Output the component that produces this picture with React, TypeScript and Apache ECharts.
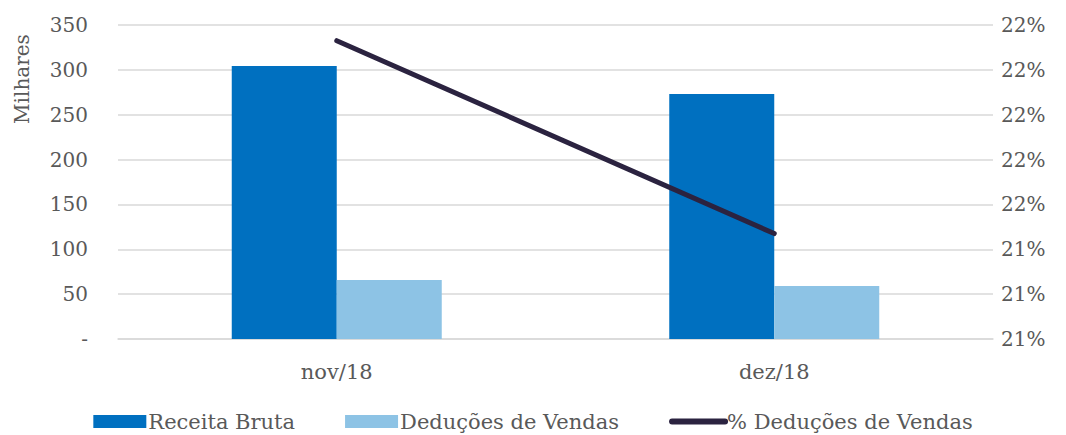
import React, { useEffect, useRef } from "react";
import * as echarts from "echarts";

const categories = ["nov/18", "dez/18"];
const receitaBruta = [304.3, 273.1];
const deducoes = [65.8, 59.1];
const pctDeducoes = [21.865, 21.435];
const seriesNames = ["Receita Bruta", "Deduções de Vendas", "% Deduções de Vendas"];

const FONT = "DejaVu Serif";
const TXT = "#595959";
const FS = 20;

export default function App() {
  const ref = useRef<HTMLDivElement>(null);
  useEffect(() => {
    document.body.style.margin = "0";
    const chart = echarts.init(ref.current!, null, { renderer: "svg" });
    chart.setOption({
      animation: false,
      textStyle: { fontFamily: FONT },
      grid: { left: 118, right: 73, top: 25, bottom: 96 },
      legend: {
        top: 406,
        left: "center",
        itemWidth: 53,
        itemHeight: 13,
        itemGap: 50,
        textStyle: { fontFamily: FONT, fontSize: 21, color: TXT, padding: [0, 0, 0, -3] },
        data: [
          { name: seriesNames[0], icon: "rect" },
          { name: seriesNames[1], icon: "rect" },
          { name: seriesNames[2], itemStyle: { opacity: 0 }, lineStyle: { width: 6 } },
        ],
      },
      graphic: [
        {
          type: "text",
          x: 22,
          y: 79,
          rotation: Math.PI / 2,
          style: {
            text: "Milhares",
            font: `${FS}px ${FONT}`,
            fill: TXT,
            align: "center",
            verticalAlign: "middle",
          },
        },
      ],
      xAxis: {
        type: "category",
        data: categories,
        axisLine: { show: true, lineStyle: { color: "#D9D9D9", width: 1.5 } },
        axisTick: { show: false },
        axisLabel: { color: TXT, fontSize: 21, fontFamily: FONT, margin: 22 },
      },
      yAxis: [
        {
          type: "value",
          min: 0,
          max: 350,
          interval: 50,
          axisLine: { show: false },
          axisTick: { show: false },
          splitLine: { lineStyle: { color: "#D9D9D9", width: 1.5 } },
          axisLabel: {
            color: TXT,
            fontSize: FS,
            fontFamily: FONT,
            margin: 30,
            formatter: (v: number) => (v === 0 ? "-" : String(v)),
          },
        },
        {
          type: "value",
          min: 21.2,
          max: 21.9,
          interval: 0.1,
          axisLine: { show: false },
          axisTick: { show: false },
          splitLine: { show: false },
          axisLabel: {
            color: TXT,
            fontSize: FS,
            fontFamily: FONT,
            margin: 8,
            formatter: (v: number) => Math.round(v + 1e-9) + "%",
          },
        },
      ],
      series: [
        {
          name: seriesNames[0],
          type: "bar",
          data: receitaBruta,
          barGap: "0%",
          barCategoryGap: "52%",
          itemStyle: { color: "#0070C0" },
        },
        {
          name: seriesNames[1],
          type: "bar",
          data: deducoes,
          itemStyle: { color: "#8DC3E5" },
        },
        {
          name: seriesNames[2],
          type: "line",
          yAxisIndex: 1,
          data: pctDeducoes,
          symbol: "none",
          lineStyle: { color: "#2B2340", width: 5, cap: "round" },
          itemStyle: { color: "#2B2340" },
        },
      ],
    });
    return () => chart.dispose();
  }, []);
  return <div ref={ref} style={{ width: 1066, height: 435 }} />;
}
